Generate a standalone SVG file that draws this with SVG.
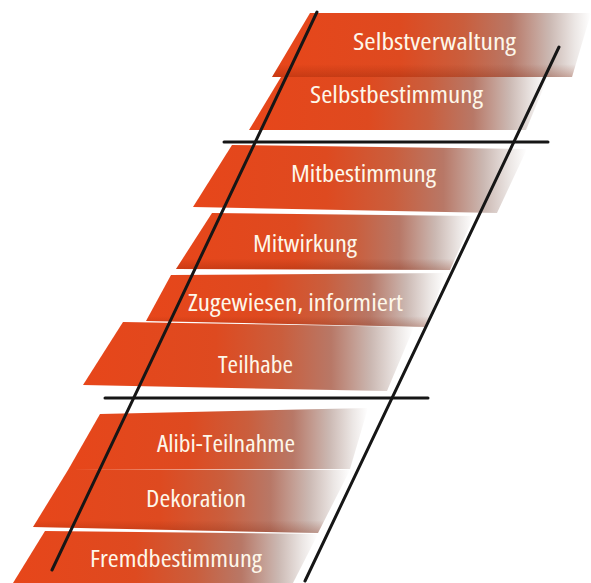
<svg xmlns="http://www.w3.org/2000/svg" width="591" height="583" viewBox="0 0 591 583">
<defs>
<linearGradient id="band" x1="0" y1="0" x2="1" y2="0">
<stop offset="0" stop-color="#e7461a"/>
<stop offset="0.4" stop-color="#de4a20"/>
<stop offset="0.6" stop-color="#ca5e3d"/>
<stop offset="0.75" stop-color="#b87867"/>
<stop offset="0.87" stop-color="#cbb8b2"/>
<stop offset="0.95" stop-color="#ece7e5"/>
<stop offset="1" stop-color="#ffffff"/>
</linearGradient>
<linearGradient id="shade" x1="0" y1="0" x2="0" y2="1">
<stop offset="0" stop-color="#7a1a00" stop-opacity="0"/>
<stop offset="0.8" stop-color="#7a1a00" stop-opacity="0"/>
<stop offset="1" stop-color="#7a1a00" stop-opacity="0.28"/>
</linearGradient>
</defs>
<style>
.b{fill:url(#band)}
.s{fill:url(#shade)}
.t{font-family:"Open Sans","DejaVu Sans",sans-serif;font-stretch:condensed;font-size:23px;fill:#fdf7ea}
.l{stroke:#161616;stroke-width:3;stroke-linecap:round;fill:none}
</style>
<g id="selbstverwaltung">
<polygon class="b" points="310,13 591,13 572,77 272,77"/>
<polygon class="s" points="310,13 591,13 572,77 272,77"/>
<text class="t" x="353" y="50" textLength="163" lengthAdjust="spacingAndGlyphs">Selbstverwaltung</text>
</g>
<g id="selbstbestimmung">
<polygon class="b" points="281,77 548,77 526,130 249,130"/>
<text class="t" x="310" y="103" textLength="173" lengthAdjust="spacingAndGlyphs">Selbstbestimmung</text>
</g>
<g id="mitbestimmung">
<polygon class="b" points="232,145 527,149 497,213 193,207"/>
<text class="t" x="291" y="182" textLength="145" lengthAdjust="spacingAndGlyphs">Mitbestimmung</text>
</g>
<g id="mitwirkung">
<polygon class="b" points="212,213 474,216 450,270 176,269"/>
<polygon class="s" points="212,213 474,216 450,270 176,269"/>
<text class="t" x="253" y="252" textLength="104" lengthAdjust="spacingAndGlyphs">Mitwirkung</text>
</g>
<g id="zugewiesen">
<polygon class="b" points="171,275 445,273 427,327 146,321"/>
<polygon class="s" points="171,275 445,273 427,327 146,321"/>
<text class="t" x="188" y="311" textLength="215" lengthAdjust="spacingAndGlyphs">Zugewiesen, informiert</text>
</g>
<g id="teilhabe">
<polygon class="b" points="123,322 414,327 387,391 83,385"/>
<text class="t" x="218" y="373" textLength="75" lengthAdjust="spacingAndGlyphs">Teilhabe</text>
</g>
<g id="alibi-teilnahme">
<polygon class="b" points="100,414 368,408 350,469 68,470"/>
<text class="t" x="157" y="452" textLength="138" lengthAdjust="spacingAndGlyphs">Alibi-Teilnahme</text>
</g>
<g id="dekoration">
<polygon class="b" points="68,470 350,470 318,533 33,527"/>
<polygon class="s" points="68,470 350,470 318,533 33,527"/>
<text class="t" x="146" y="507" textLength="100" lengthAdjust="spacingAndGlyphs">Dekoration</text>
</g>
<g id="fremdbestimmung">
<polygon class="b" points="45,531 318,534 293,583 13,583"/>
<text class="t" x="90" y="567" textLength="172" lengthAdjust="spacingAndGlyphs">Fremdbestimmung</text>
</g>
<g id="connectors">
<line class="l" x1="317" y1="12" x2="52" y2="570"/>
<line class="l" x1="559" y1="47" x2="305" y2="581"/>
<line class="l" x1="224" y1="142" x2="548" y2="142"/>
<line class="l" x1="105" y1="398" x2="428" y2="398"/>
</g>
</svg>
